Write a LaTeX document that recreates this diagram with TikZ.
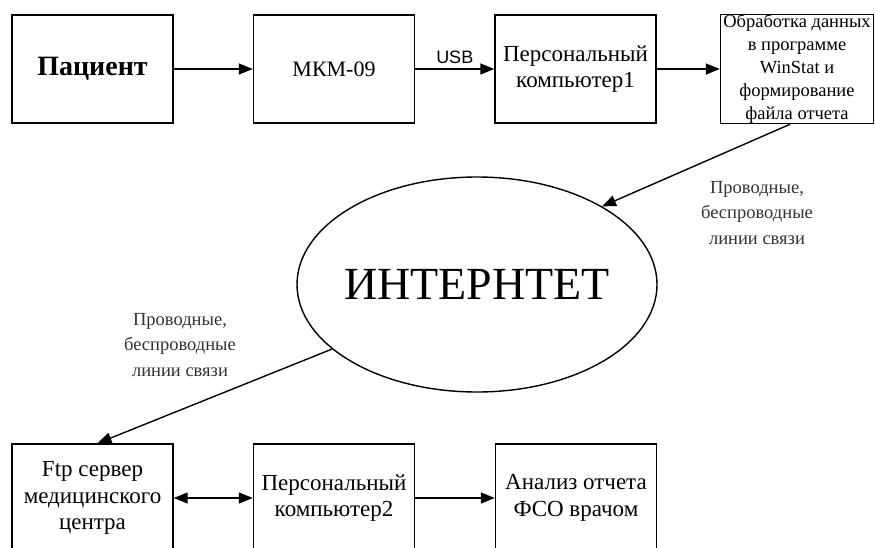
\documentclass[tikz,border=0pt]{standalone}
\usepackage{fontspec}
\setmainfont{Liberation Serif}
\newfontfamily\usbfont{Liberation Sans}
\usetikzlibrary{shapes.geometric,arrows.meta}
\begin{document}
\begin{tikzpicture}[x=1pt,y=-1pt,
  box/.style={draw,line width=1.4pt,minimum width=161pt,minimum height=108pt,inner sep=0pt,align=center,font=\fontsize{23}{26.5}\selectfont},
  arr/.style={line width=1.4pt,-{Triangle[length=14pt,width=11pt]}},
  lbl/.style={align=center,text=black!80,font=\fontsize{18.5}{25.5}\selectfont}]
\useasboundingbox (0,0) rectangle (875,547);
\clip (0,0) rectangle (875,547);
\node[box,font=\fontsize{28}{32}\selectfont\bfseries] (pac) at (92.5,69) {Пациент};
\node[box,font=\fontsize{22}{26}\selectfont] (mkm) at (334,69) {МКМ-09};
\node[box] (pc1) at (575.5,69) {Персональный\\компьютер1};
\node[box,minimum width=153pt,font=\fontsize{18.5}{23}\selectfont] (obr) at (797,69) {Обработка данных\\в программе\\WinStat и\\формирование\\файла отчета};
\node[ellipse,draw,line width=1.4pt,minimum width=360pt,minimum height=215pt,inner sep=0pt,
  label={[font=\fontsize{46}{50}\selectfont]center:ИНТЕРНТЕТ}] (inet) at (477,284.5) {};
\node[box] (ftp) at (92.5,498) {Ftp сервер\\медицинского\\центра};
\node[box] (pc2) at (334,498) {Персональный\\компьютер2};
\node[box] (an) at (576,498) {Анализ отчета\\ФСО врачом};
\draw[arr] (pac) -- (mkm);
\draw[arr] (mkm) -- node[above=1pt,font=\usbfont\fontsize{18}{20}\selectfont]{USB} (pc1);
\draw[arr] (pc1) -- (obr);
\draw[arr] ([xshift=-7pt]obr.south) -- (inet.32);
\draw[arr] (inet.204) -- ([xshift=5pt]ftp.north);
\draw[line width=1.4pt,{Triangle[length=14pt,width=11pt]}-{Triangle[length=14pt,width=11pt]}] (ftp) -- (pc2);
\draw[arr] (pc2) -- (an);
\node[lbl] (l1) at (757,213) {Проводные,\\беспроводные\\линии связи};
\node[lbl] (l2) at (180,345) {Проводные,\\беспроводные\\линии связи};
\end{tikzpicture}
\end{document}
